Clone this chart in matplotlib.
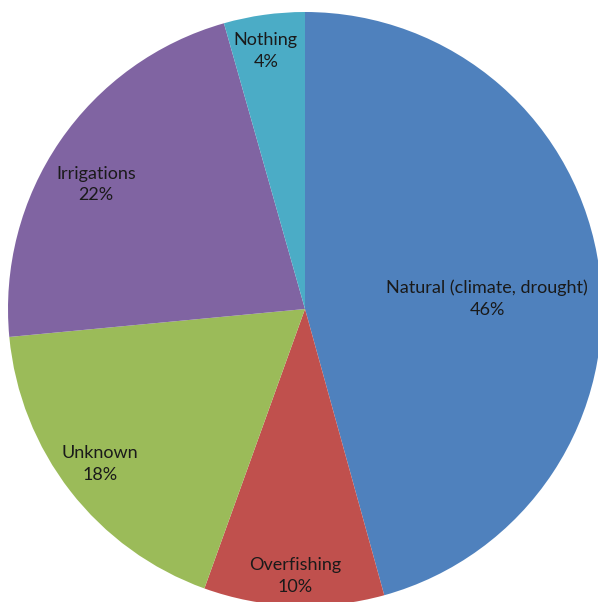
import numpy as np
import matplotlib
matplotlib.use("Agg")
from matplotlib import pyplot as plt

labels = ["Natural (climate, drought)", "Overfishing", "Unknown", "Irrigations", "Nothing"]
values = [45.7, 9.8, 18.0, 22.1, 4.4]
colors = ["#4F81BD", "#C0504D", "#9BBB59", "#8064A2", "#4BACC6"]
# label placement: distance from centre (fraction of radius) and angle nudge (deg)
label_r = [0.614, 0.90, 0.865, 0.819, 0.879]
label_nudge = [-4.4, 0.0, -0.7, 3.6, 0.7]

fig = plt.figure(figsize=(5.98, 6.02), dpi=100)
W, H = 598, 602
cx, cy, r = 305, 309, 297   # pie runs a little past the right and bottom edges
ax = fig.add_axes([(cx - r) / W, (H - cy - r) / H, 2 * r / W, 2 * r / H])

wedges, _ = ax.pie(values, colors=colors, startangle=90, counterclock=False,
                   radius=1, wedgeprops=dict(linewidth=0))

for w, lab, v, lr, dn in zip(wedges, labels, values, label_r, label_nudge):
    a = np.deg2rad((w.theta1 + w.theta2) / 2 + dn)
    ax.text(lr * np.cos(a), lr * np.sin(a), "%s\n%d%%" % (lab, round(v)),
            ha="center", va="center", fontsize=13, family="Lato",
            color="#1a1a1a", linespacing=1.45)

ax.set_xlim(-1, 1)
ax.set_ylim(-1, 1)
ax.set_aspect("auto")
ax.axis("off")

fig.savefig("out.png", dpi=100)
